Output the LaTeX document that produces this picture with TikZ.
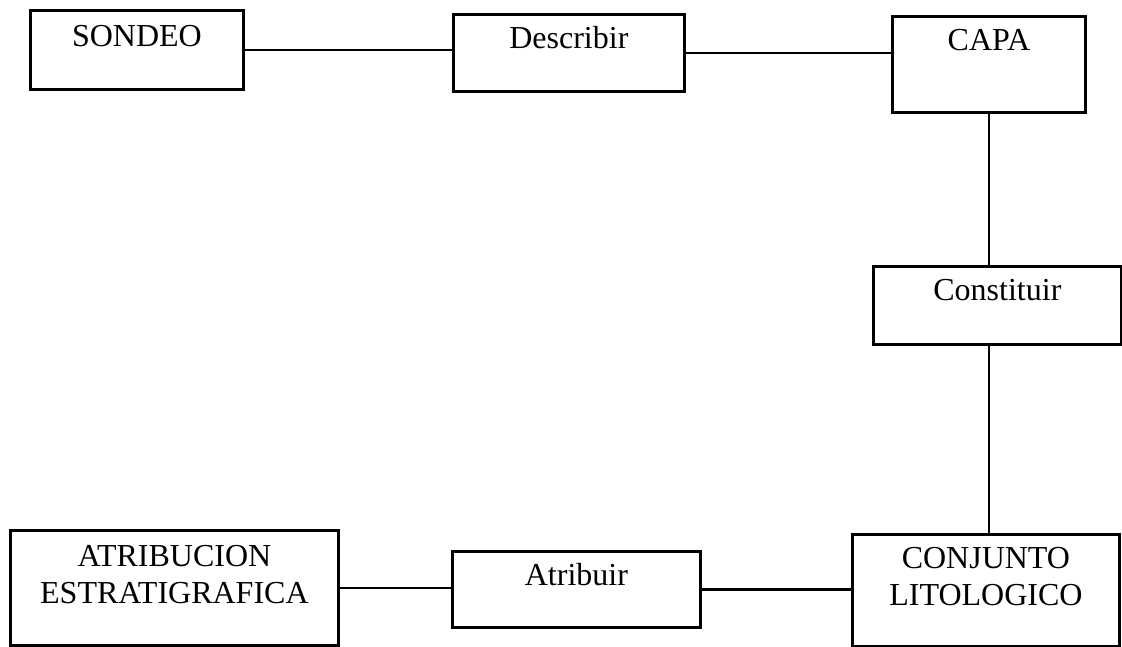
\documentclass[tikz,border=0pt]{standalone}
\usepackage{fontspec}
\setmainfont{Liberation Serif}
\begin{document}
\begin{tikzpicture}[x=1pt, y=-1pt,
  box/.style={draw=black, line width=2.8pt, rectangle, inner sep=0pt, anchor=north west},
  lbl/.style={font=\fontsize{32}{37}\selectfont, align=center, anchor=base, inner sep=0pt},
  link/.style={draw=black, line width=2.2pt}]
\useasboundingbox[fill=white] (0,0) rectangle (1122,646);

% boxes
\node[box, minimum width=213pt, minimum height=79pt]  (sondeo)     at (29,9)    {};
\node[box, minimum width=231pt, minimum height=77pt]  (describir)  at (452,13)  {};
\node[box, minimum width=193pt, minimum height=96pt]  (capa)       at (891,15)  {};
\node[box, minimum width=248pt, minimum height=78pt]  (constituir) at (872,265) {};
\node[box, minimum width=267pt, minimum height=112pt] (conjunto)   at (851,533) {};
\node[box, minimum width=248pt, minimum height=76pt]  (atribuir)   at (451,550) {};
\node[box, minimum width=328pt, minimum height=115pt] (atribucion) at (9,529)   {};

% box texts, set near the top edge (two-line texts sit on their last baseline)
\node[lbl] (sondeo-t)     at ([yshift=-37pt]sondeo.north)     {SONDEO};
\node[lbl] (describir-t)  at ([yshift=-35pt]describir.north)  {Describir};
\node[lbl] (capa-t)       at ([yshift=-35pt]capa.north)       {CAPA};
\node[lbl] (constituir-t) at ([yshift=-35pt]constituir.north) {Constituir};
\node[lbl] (conjunto-t)   at ([yshift=-72pt]conjunto.north)   {CONJUNTO\\LITOLOGICO};
\node[lbl] (atribuir-t)   at ([yshift=-35pt]atribuir.north)   {Atribuir};
\node[lbl] (atribucion-t) at ([yshift=-74pt]atribucion.north) {ATRIBUCION\\ESTRATIGRAFICA};

% connectors
\draw[link] (sondeo.east) -- (sondeo.east -| describir.west);
\draw[link] (describir.east) -- (describir.east -| capa.west);
\draw[link] (capa.south) -- (capa.south |- constituir.north);
\draw[link] (capa.south |- constituir.south) -- (capa.south |- conjunto.north);
\draw[link] (atribucion.east) -- (atribucion.east -| atribuir.west);
\draw[link] (atribuir.east) -- (atribuir.east -| conjunto.west);
\end{tikzpicture}
\end{document}
